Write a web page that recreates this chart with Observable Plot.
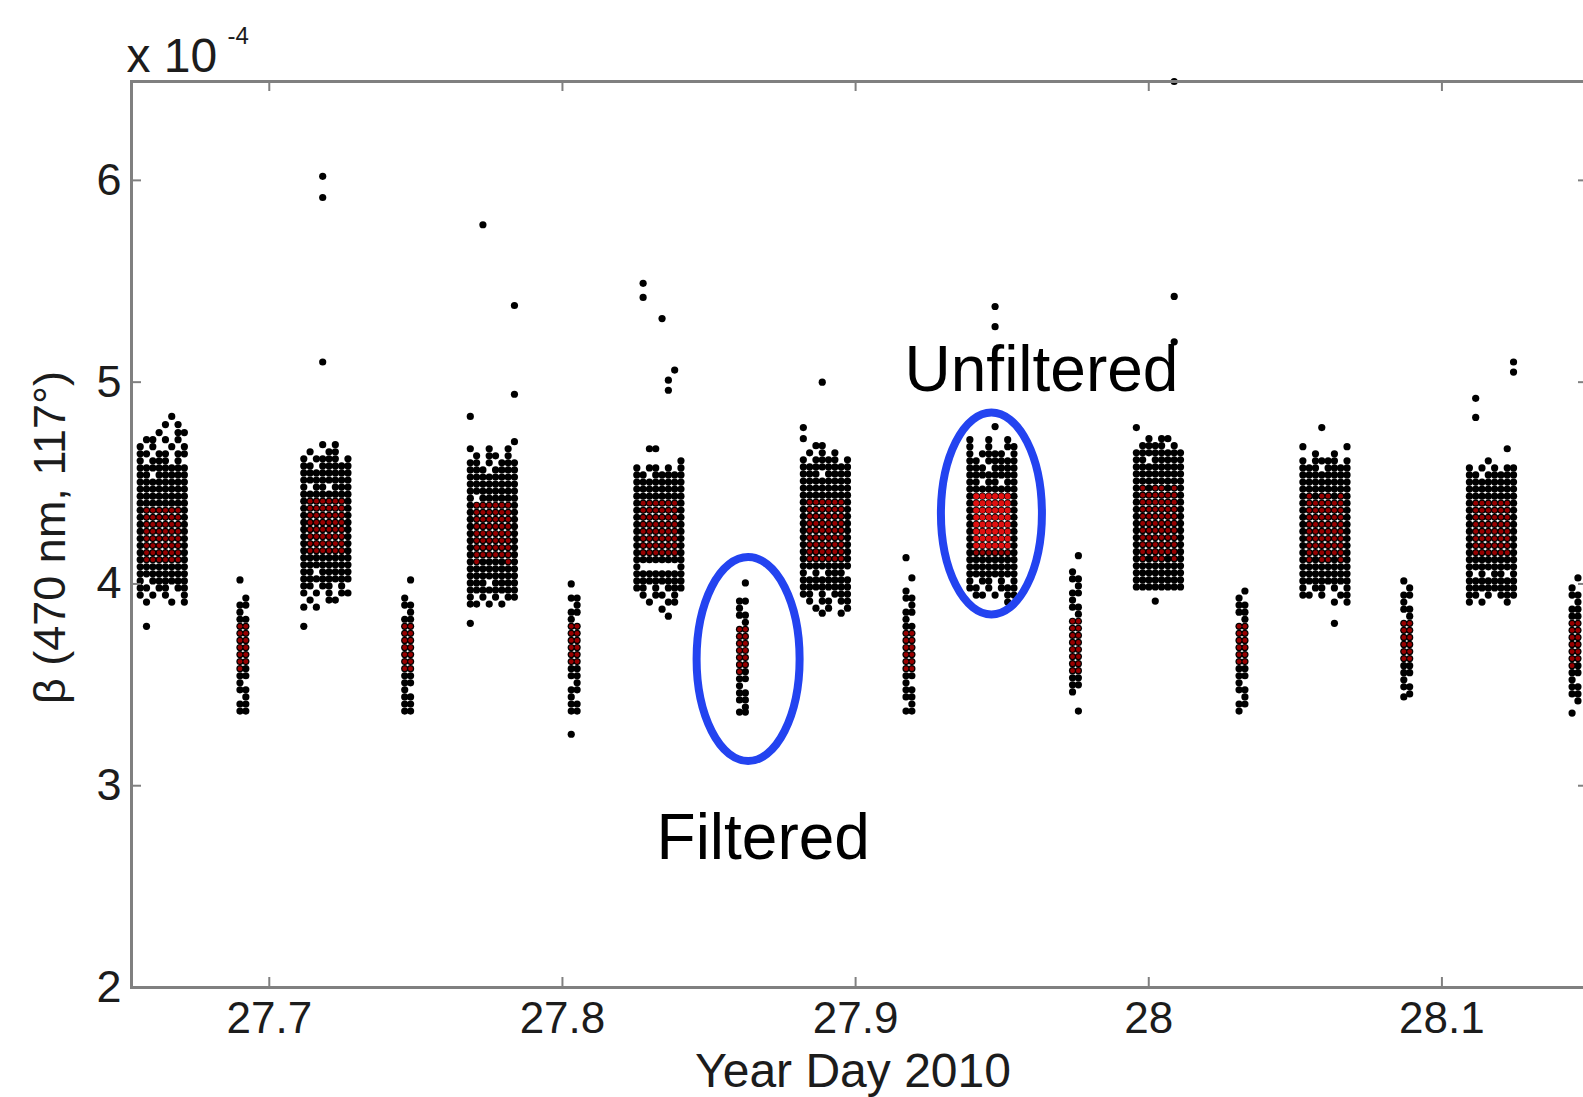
<!DOCTYPE html>
<html>
<head>
<meta charset="utf-8">
<script src="https://cdn.jsdelivr.net/npm/d3@7"></script>
<script src="https://cdn.jsdelivr.net/npm/@observablehq/plot@0.6"></script>
<style>
  html, body { margin: 0; padding: 0; background: #fff; overflow: hidden; }
  #chart svg { display: block; max-width: none; }
</style>
</head>
<body>
<div id="chart"></div>
<script>
// ---- axis data ----
const xDomain = [27.653, 28.15];
const yDomain = [2, 6.49];
const xTicks = [27.7, 27.8, 27.9, 28, 28.1];
const xTickLabels = ["27.7", "27.8", "27.9", "28", "28.1"];
const yTicks = [2, 3, 4, 5, 6];
const yTickLabels = ["2", "3", "4", "5", "6"];
const xLabel = "Year Day 2010";
const yLabel = "β (470 nm, 117°)";
const yExponentBase = "x 10";
const yExponent = "-4";

// ---- cluster times (Year Day) ----
const unfilteredTimes = [27.6635, 27.7193, 27.7761, 27.8329, 27.8897, 27.9465, 28.0033, 28.0601, 28.1169];
const filteredTimes   = [27.6910, 27.7472, 27.8040, 27.8614, 27.9182, 27.9750, 28.0318, 28.0880, 28.1454];
// sample time offsets inside each burst (days)
const unfilteredCols = [-0.00753, -0.00538, -0.00323, -0.00108, 0.00108, 0.00323, 0.00538, 0.00753];
const filteredCols = [-0.001, 0.001];

// ---- β values (x 10^-4): "value  pattern"
// '#' = unfiltered sample, 'r' / 'R' = sample that also appears in the filtered (red) set
const unfilteredRows = [
`4.83 .....#..
4.79 ....#.#.
4.75 ...#..##
4.715 .##.#.#.
4.68 #.#..#.#
4.645 ##.##.##
4.61 #.###.#.
4.575 ########
4.54 ##.#####
4.505 ########
4.47 ########
4.435 ########
4.40 ########
4.365 #rrrrrr#
4.33 #rrrrrr#
4.295 #rrrrrr#
4.26 #rrrrrr#
4.225 #rrrrrr#
4.19 #rrrrrr#
4.155 #rrrrrr#
4.12 #rrrrrr#
4.085 ########
4.05 ########
4.015 #.######
3.98 ##.##.##
3.945 #.#.#..#
3.91 .#...#.#
3.79 .#......`,
`6.02 ...#....
5.915 ...#....
5.10 ...#....
4.69 ...#.#..
4.655 .#..##..
4.62 #.####.#
4.585 ##.#####
4.55 ########
4.515 ########
4.48 #.##.###
4.445 ########
4.41 #rrrrrr#
4.375 #rrrrrr#
4.34 #rrrrrr#
4.305 #rrrrrr#
4.27 #rrrrrr#
4.235 #rrrrrr#
4.20 #rrrrrr#
4.165 #rrrrrr#
4.13 ########
4.095 ########
4.06 ##.#####
4.025 ########
3.99 ##.##.#.
3.955 #.#.#.##
3.92 .#..##..
3.885 #.#.....
3.79 #.......`,
`5.78 ..#.....
5.38 .......#
4.94 .......#
4.83 #.......
4.705 .......#
4.67 #..#..#.
4.635 .#.##.#.
4.60 ##.#.###
4.565 ###.####
4.53 ########
4.495 ########
4.46 ########
4.425 #.######
4.39 #rrrrrr#
4.355 #rrrrrr#
4.32 #rrrrrr#
4.285 #rrrrrr#
4.25 #rrrrrr#
4.215 #rrrrrr#
4.18 #rrrrrr#
4.145 #rrrrrr#
4.11 #r####r#
4.075 ########
4.04 ########
4.005 ###.####
3.97 ########
3.935 #.#.#.##
3.90 ##.#.#..
3.805 #.......`,
`5.49 .#......
5.42 .#......
5.315 ....#...
5.06 ......#.
5.01 .....#..
4.96 .....#..
4.67 ..##....
4.61 .......#
4.575 #.##.#.#
4.54 ##.#####
4.505 ########
4.47 ########
4.435 ########
4.40 #rrrrrr#
4.365 #rrrrrr#
4.33 #rrrrrr#
4.295 #rrrrrr#
4.26 #rrrrrr#
4.225 #rrrrrr#
4.19 #rrrrrr#
4.155 #rrrrrr#
4.12 ########
4.085 #......#
4.05 ########
4.015 ########
3.98 ##.#.###
3.945 .#.##.#.
3.91 ..#..##.
3.875 ....#...
3.84 .....#..`,
`5.00 ...#....
4.775 #.......
4.72 #.......
4.685 ..##....
4.65 .#.#.#..
4.615 #.####.#
4.58 ########
4.545 ###.####
4.51 ########
4.475 ########
4.44 ########
4.405 #rrrrrr#
4.37 #rrrrrr#
4.335 #rrrrrr#
4.30 #rrrrrr#
4.265 #rrrrrr#
4.23 #rrrrrr#
4.195 #rrrrrr#
4.16 #rrrrrr#
4.125 #rrrrrr#
4.09 ########
4.055 #.#.###.
4.02 ########
3.985 ########
3.95 ##.#.###
3.915 .#.##.##
3.88 ..#.#..#
3.855 ...#..#.`,
`5.375 ....#...
5.275 ....#...
4.78 ....#...
4.715 #..#..#.
4.68 #..#..##
4.645 #.####.#
4.61 ##.#####
4.575 ###.####
4.54 ########
4.505 ##.##.##
4.47 ########
4.435 #RRRRRR#
4.40 #RRRRRR#
4.365 #RRRRRR#
4.33 #RRRRRR#
4.295 #RRRRRR#
4.26 #RRRRRR#
4.225 #RRRRRR#
4.19 #RRRRRR#
4.155 #rrrrrr#
4.12 ########
4.085 ########
4.05 ########
4.015 #.##.#.#
3.98 ##.#.###
3.945 .##.#.##
3.91 ......#.`,
`6.49 ......#.
5.425 ......#.
5.20 ......#.
4.775 #.......
4.72 ..#.##..
4.685 .####.#.
4.65 ########
4.615 ##.#####
4.58 ########
4.545 ########
4.51 ########
4.475 #r#rr#r#
4.44 #rrrrrr#
4.405 #rrrrrr#
4.37 #rrrrrr#
4.335 #rrrrrr#
4.30 #rrrrrr#
4.265 #rrrrrr#
4.23 #rrrrrr#
4.195 #rrrrrr#
4.16 #rrrrrr#
4.125 #r#rr#r#
4.09 ########
4.055 ########
4.02 ########
3.985 ########
3.915 ...#....`,
`4.775 ...#....
4.68 #......#
4.645 ..#..#..
4.61 #.####.#
4.575 ###.####
4.54 ########
4.505 ########
4.47 ########
4.435 #r#rr#r#
4.40 #rrrrrr#
4.365 #rrrrrr#
4.33 #rrrrrr#
4.295 #rrrrrr#
4.26 #rrrrrr#
4.225 #rrrrrr#
4.19 #rrrrrr#
4.155 #rrrrrr#
4.12 #r#rr#r#
4.085 ########
4.05 ########
4.015 ########
3.98 #.##.#.#
3.945 ##.#..##
3.91 .....#.#
3.805 .....#..`,
`5.10 .......#
5.05 .......#
4.92 .#......
4.825 .#......
4.67 ......#.
4.61 ...#....
4.575 #.#.#.##
4.54 ##.#####
4.505 ########
4.47 ########
4.435 ########
4.40 #rrrrrr#
4.365 #rrrrrr#
4.33 #rrrrrr#
4.295 #rrrrrr#
4.26 #rrrrrr#
4.225 #rrrrrr#
4.19 #rrrrrr#
4.155 #rrrrrr#
4.12 ########
4.085 ########
4.05 #.#.##.#
4.015 ########
3.98 ########
3.945 ##.#.###
3.91 #.#...#.`
];

const filteredRows = [
`4.02 #.
3.93 .#
3.895 ##
3.86 #.
3.825 ##
3.79 rr
3.755 rr
3.72 rr
3.685 rr
3.65 rr
3.615 rr
3.58 r#
3.545 ##
3.51 #.
3.475 ##
3.44 .#
3.405 ##
3.37 ##`,
`4.02 .#
3.93 #.
3.895 ##
3.86 .#
3.825 ##
3.79 rr
3.755 rr
3.72 rr
3.685 rr
3.65 rr
3.615 rr
3.58 rr
3.545 ##
3.51 ##
3.475 #.
3.44 ##
3.405 ##
3.37 ##`,
`4.00 #.
3.93 ##
3.895 .#
3.86 ##
3.825 #.
3.79 rr
3.755 rr
3.72 rr
3.685 rr
3.65 rr
3.615 rr
3.58 ##
3.545 ##
3.51 .#
3.475 ##
3.44 #.
3.405 ##
3.37 ##
3.255 #.`,
`4.005 .#
3.915 ##
3.88 #.
3.845 ##
3.81 .#
3.775 rr
3.74 rr
3.705 rr
3.67 rr
3.635 rr
3.60 rr
3.565 r#
3.53 ##
3.495 #.
3.46 ##
3.425 ##
3.39 .#
3.365 ##`,
`4.13 #.
4.03 .#
3.965 #.
3.93 ##
3.895 .#
3.86 ##
3.825 #.
3.79 ##
3.755 rr
3.72 rr
3.685 rr
3.65 rr
3.615 rr
3.58 rr
3.545 ##
3.51 #.
3.475 ##
3.44 ##
3.405 .#
3.37 ##`,
`4.14 .#
4.06 #.
4.025 ##
3.99 .#
3.955 ##
3.92 #.
3.885 ##
3.85 .#
3.815 rr
3.78 rr
3.745 rr
3.71 rr
3.675 rr
3.64 rr
3.605 rr
3.57 rr
3.535 ##
3.50 ##
3.465 #.
3.37 .#`,
`3.965 .#
3.93 #.
3.895 ##
3.86 ##
3.825 .#
3.79 rr
3.755 rr
3.72 rr
3.685 rr
3.65 rr
3.615 rr
3.58 ##
3.545 ##
3.51 #.
3.475 ##
3.44 .#
3.405 ##
3.37 #.`,
`4.015 #.
3.98 .#
3.945 ##
3.91 #.
3.875 ##
3.84 .#
3.805 rr
3.77 rr
3.735 rr
3.70 rr
3.665 rr
3.63 rr
3.595 ##
3.56 ##
3.525 #.
3.49 ##
3.455 .#
3.44 #.`,
`4.03 .#
3.98 #.
3.945 ##
3.91 .#
3.875 ##
3.84 ##
3.805 rr
3.77 rr
3.735 rr
3.70 rr
3.665 rr
3.63 rr
3.595 r#
3.56 ##
3.525 #.
3.49 ##
3.455 ##
3.42 .#
3.36 #.`
];

// ---- annotations ----
const annotations = [
  {label: "Unfiltered", t: 27.9167, y: 5.182},
  {label: "Filtered", t: 27.8321, y: 2.862}
];
const ellipses = [
  {t: 27.9465, y: 4.347, rt: 0.01723, ry: 0.5005},
  {t: 27.8635, y: 3.6255, rt: 0.01757, ry: 0.5055}
];

// ---- build point tables ----
const blackPts = [], redPts = [], brightPts = [];
function addClusters(times, cols, rowsList) {
  times.forEach((t, k) => {
    rowsList[k].trim().split("\n").forEach(line => {
      const [ys, pat] = line.trim().split(/\s+/);
      const y = +ys;
      [...pat].forEach((c, j) => {
        if (c === ".") return;
        const p = {t: t + cols[j], y};
        blackPts.push(p);
        if (c === "r") redPts.push(p);
        if (c === "R") brightPts.push(p);
      });
    });
  });
}
addClusters(unfilteredTimes, unfilteredCols, unfilteredRows);
addClusters(filteredTimes, filteredCols, filteredRows);

const axisGray = "#808080";
const tickLenY = 10 / 201.8;   // inward tick length in y units
const tickLenX = 10 / 2931.6;  // inward tick length in x units
const font = "'Liberation Sans', Arial, Helvetica, sans-serif";
const ink = "#1c1c1c";

const chart = Plot.plot({
  width: 1600,
  height: 1097,
  marginLeft: 131,
  marginRight: 12,
  marginTop: 81,
  marginBottom: 110,
  style: {fontFamily: font, background: "#fff", overflow: "visible"},
  x: {domain: xDomain},
  y: {domain: yDomain},
  marks: [
    Plot.dot(blackPts, {x: "t", y: "y", r: 3.6, fill: "#000"}),
    Plot.dot(redPts, {x: "t", y: "y", r: 2.4, fill: "#980000"}),
    Plot.dot(brightPts, {x: "t", y: "y", r: 2.9, fill: "#e01010"}),
    Plot.frame({stroke: axisGray, strokeWidth: 3}),
    Plot.ruleX(xTicks, {x: d => d, y1: yDomain[0], y2: yDomain[0] + tickLenY, stroke: axisGray, strokeWidth: 2}),
    Plot.ruleX(xTicks, {x: d => d, y1: yDomain[1], y2: yDomain[1] - tickLenY, stroke: axisGray, strokeWidth: 2}),
    Plot.ruleY(yTicks, {y: d => d, x1: xDomain[0], x2: xDomain[0] + tickLenX, stroke: axisGray, strokeWidth: 2}),
    Plot.ruleY(yTicks, {y: d => d, x1: xDomain[1], x2: xDomain[1] - tickLenX, stroke: axisGray, strokeWidth: 2}),
    Plot.axisX({ticks: xTicks, tickSize: 0, tickPadding: 14, fontSize: 44, fill: ink,
      tickFormat: d => xTickLabels[xTicks.indexOf(d)], label: null}),
    Plot.axisY({ticks: yTicks, tickSize: 0, tickPadding: 10, fontSize: 45, fill: ink,
      tickFormat: d => yTickLabels[yTicks.indexOf(d)], label: null}),
    Plot.text([xLabel], {frameAnchor: "bottom", textAnchor: "middle", lineAnchor: "top", dy: 65, dx: -7, fontSize: 48, fill: ink}),
    Plot.text([yLabel], {frameAnchor: "left", textAnchor: "middle", lineAnchor: "middle", rotate: -90, dx: -81, dy: 3, fontSize: 45, fill: ink}),
    Plot.text([yExponentBase], {frameAnchor: "top-left", textAnchor: "start", lineAnchor: "bottom", dx: -5, dy: -10, fontSize: 48, fill: ink}),
    Plot.text([yExponent], {frameAnchor: "top-left", textAnchor: "start", lineAnchor: "bottom", dx: 96, dy: -38, fontSize: 24, fill: ink}),
    Plot.text(annotations, {x: "t", y: "y", text: "label", textAnchor: "start", lineAnchor: "top", fontSize: 64, fill: "#000"})
  ]
});
chart.style.maxWidth = "none";

// blue ellipses, positioned through the chart's own scales
const sx = chart.scale("x"), sy = chart.scale("y");
const g = d3.select(chart).append("g");
ellipses.forEach(e => {
  const cx = sx.apply(e.t), cy = sy.apply(e.y);
  g.append("ellipse")
    .attr("cx", cx).attr("cy", cy)
    .attr("rx", Math.abs(sx.apply(e.t + e.rt) - cx))
    .attr("ry", Math.abs(sy.apply(e.y + e.ry) - cy))
    .attr("fill", "none").attr("stroke", "#2343f0").attr("stroke-width", 8);
});

document.getElementById("chart").appendChild(chart);
</script>
</body>
</html>
